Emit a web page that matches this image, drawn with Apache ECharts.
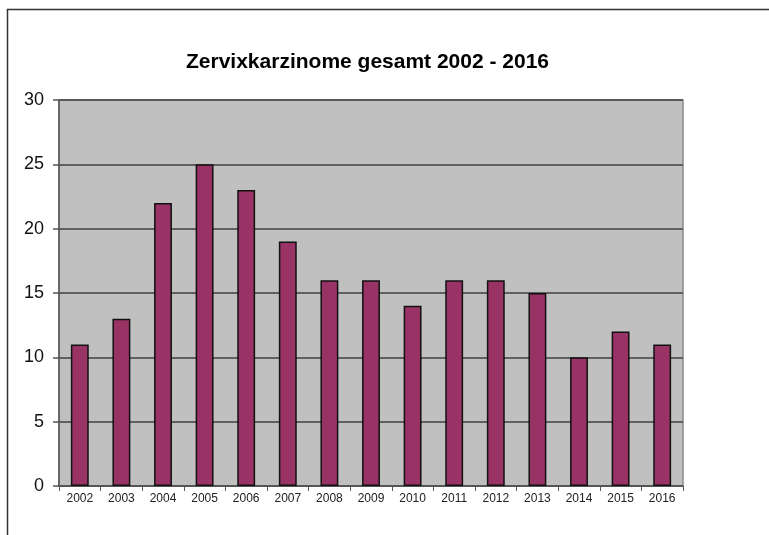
<!DOCTYPE html>
<html>
<head>
<meta charset="utf-8">
<script src="https://cdn.jsdelivr.net/npm/echarts@6/dist/echarts.min.js"></script>
<style>
  html, body { margin: 0; padding: 0; background: #fff; }
  #chart { width: 769px; height: 535px; }
</style>
</head>
<body>
<div id="chart"></div>
<script>
const years = ['2002', '2003', '2004', '2005', '2006', '2007', '2008', '2009', '2010', '2011', '2012', '2013', '2014', '2015', '2016']
const counts = [11, 13, 22, 25, 23, 19, 16, 16, 14, 16, 16, 15, 10, 12, 11]

const chart = echarts.init(document.getElementById('chart'))

chart.setOption({
  animation: false,
  title: {
    text: 'Zervixkarzinome gesamt 2002 - 2016',
    left: 181,
    top: 47,
    textStyle: { fontFamily: 'Liberation Sans', fontSize: 21, fontWeight: 'bold', color: '#000' },
  },
  graphic: [
    {
      type: 'rect',
      shape: { x: 7.5, y: 9.5, width: 900, height: 700 },
      style: { fill: 'none', stroke: '#333', lineWidth: 1.5 },
      silent: true,
    },
  ],
  grid: {
    left: 59,
    right: 86,
    top: 100,
    bottom: 49,
    show: true,
    backgroundColor: '#c0c0c0',
    borderColor: '#8c8c8c',
    borderWidth: 1.5,
  },
  xAxis: {
    type: 'category',
    data: years,
    axisLine: { lineStyle: { color: '#555', width: 1.5 } },
    axisTick: { show: true, length: 5, lineStyle: { color: '#555' } },
    axisLabel: { color: '#222', fontSize: 12, fontFamily: 'Liberation Sans', margin: 7 },
  },
  yAxis: {
    type: 'value',
    min: 0,
    max: 30,
    interval: 5,
    axisLine: { show: true, lineStyle: { color: '#555', width: 1.5 } },
    axisTick: { show: true, length: 6, lineStyle: { color: '#555', width: 1.5 } },
    axisLabel: { color: '#111', fontSize: 18, fontFamily: 'Liberation Sans', margin: 15 },
    splitLine: { show: true, lineStyle: { color: '#404040', width: 1.5 } },
  },
  series: [
    {
      type: 'bar',
      data: counts,
      barWidth: '43%',
      itemStyle: { color: '#993366', borderColor: '#111', borderWidth: 1.5 },
    },
  ],
})
</script>
</body>
</html>
